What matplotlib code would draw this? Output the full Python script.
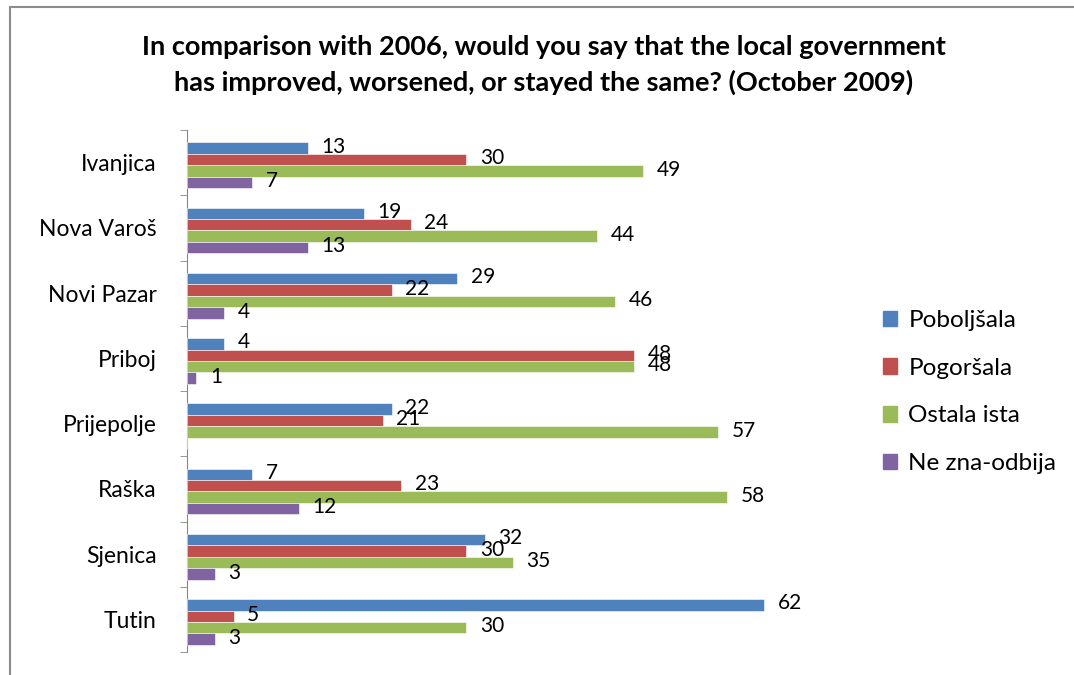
import matplotlib
matplotlib.use("Agg")
import matplotlib.pyplot as plt
import numpy as np
from matplotlib.patches import Rectangle

categories = ["Ivanjica", "Nova Varoš", "Novi Pazar", "Priboj", "Prijepolje", "Raška", "Sjenica", "Tutin"]
series_names = ["Poboljšala", "Pogoršala", "Ostala ista", "Ne zna-odbija"]
poboljsala = [13, 19, 29, 4, 22, 7, 32, 62]
pogorsala = [30, 24, 22, 48, 21, 23, 30, 5]
ostala_ista = [49, 44, 46, 48, 57, 58, 35, 30]
ne_zna = [7, 13, 4, 1, None, 12, 3, 3]
colors = ["#4F81BD", "#C0504D", "#9BBB59", "#8064A2"]

plt.rcParams['font.family'] = ['Lato', 'DejaVu Sans']

fig = plt.figure(figsize=(10.74, 6.75), dpi=100)
fig.patches.append(Rectangle((10/1074, -0.01), 1.1, (675-7)/675 + 0.01, transform=fig.transFigure,
                             fill=False, edgecolor="#8c8c8c", linewidth=1.5))
ax = fig.add_axes([187/1074, 23/675, (839-187)/1074, (652-130)/675])

all_series = [poboljsala, pogorsala, ostala_ista, ne_zna]
h = 0.176
y = np.arange(len(categories))
for i, (vals, col, name) in enumerate(zip(all_series, colors, series_names)):
    offs = (i - 1.5) * h + 0.04
    v = np.array([0 if x is None else x for x in vals], dtype=float)
    ax.barh(y + offs, v, height=h, color=col, edgecolor="white", linewidth=0.4, label=name, zorder=3)
    for yy, val in zip(y + offs, vals):
        if val is None:
            continue
        ax.text(val + 1.45, yy - 0.02, str(val), va="center", ha="left", fontsize=15, color="black", zorder=4)

ax.set_xlim(0, 70)
ax.set_ylim(len(categories) - 0.5, -0.5)
ax.set_xticks(np.arange(0, 71, 10))
ax.xaxis.set_visible(False)
ax.grid(axis="x", color="#868686", linewidth=1, zorder=0)
ax.set_yticks(y)
ax.set_yticklabels(categories, fontsize=16.5)
ax.tick_params(axis="y", length=0, pad=22)
ax.set_yticks(np.arange(-0.5, len(categories)), minor=True)
ax.tick_params(axis="y", which="minor", length=5, color="#868686", direction="out")
for s in ["top", "right", "bottom"]:
    ax.spines[s].set_visible(False)
ax.spines["left"].set_color("#868686")

handles = [Rectangle((0, 0), 1, 1, color=c) for c in colors]
fig.legend(handles, series_names, loc="center left", bbox_to_anchor=(861/1074, (675-392)/675),
           frameon=False, fontsize=17.5, handlelength=0.6, handleheight=0.6, handletextpad=0.45,
           labelspacing=1.1)

fig.text(544/1074, (675-65)/675,
         "In comparison with 2006, would you say that the local government\nhas improved, worsened, or stayed the same? (October 2009)",
         ha="center", va="center", fontsize=19.5, fontweight="bold", linespacing=1.55)

fig.savefig("out.png", dpi=100)
